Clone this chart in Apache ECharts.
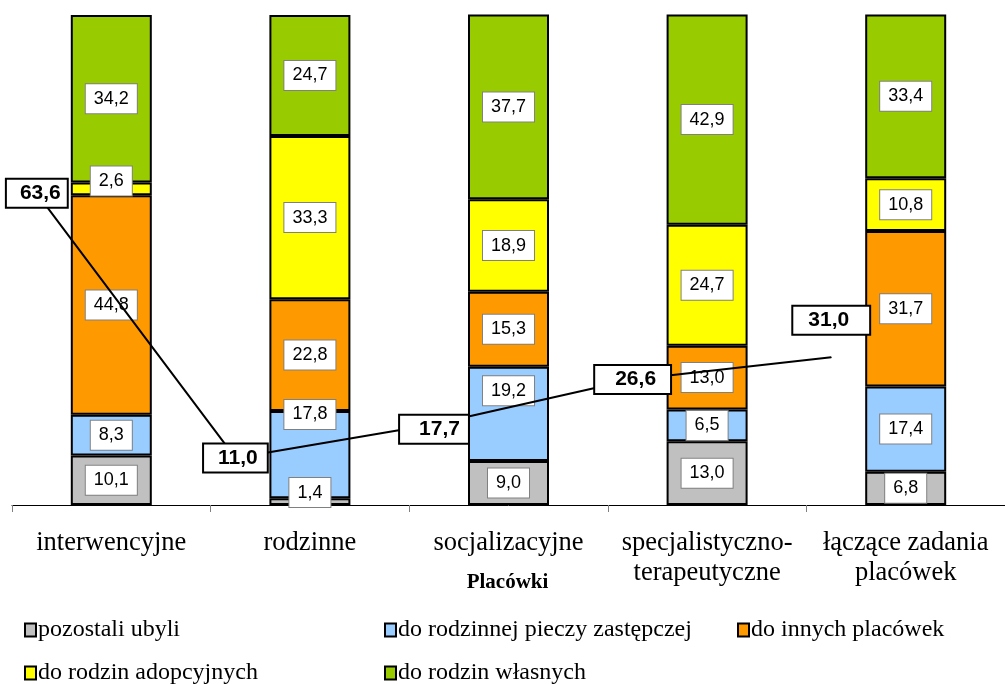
<!DOCTYPE html>
<html>
<head>
<meta charset="utf-8">
<script src="https://cdn.jsdelivr.net/npm/echarts@6/dist/echarts.min.js"></script>
<style>
html, body { margin: 0; padding: 0; background: #fff; }
#chart { width: 1005px; height: 684px; }
</style>
</head>
<body>
<div id="chart"></div>
<script>
var categories = ['interwencyjne', 'rodzinne', 'socjalizacyjne', 'specjalistyczno-\nterapeutyczne', 'łączące zadania\nplacówek'];
var seriesNames = ['pozostali ubyli', 'do rodzinnej pieczy zastępczej', 'do innych placówek', 'do rodzin adopcyjnych', 'do rodzin własnych'];

var pozostali = [10.1, 1.4, 9.0, 13.0, 6.8];
var rodzinnaPiecza = [8.3, 17.8, 19.2, 6.5, 17.4];
var innePlacowki = [44.8, 22.8, 15.3, 13.0, 31.7];
var adopcyjne = [2.6, 33.3, 18.9, 24.7, 10.8];
var wlasne = [34.2, 24.7, 37.7, 42.9, 33.4];

var lineValues = [63.6, 11.0, 17.7, 26.6, 31.0];

var colors = ['#C0C0C0', '#99CCFF', '#FF9900', '#FFFF00', '#99CC00'];
var barData = [pozostali, rodzinnaPiecza, innePlacowki, adopcyjne, wlasne];

// labels moved by hand in the original
var labelShift = { '1-1': [0, -9], '1-2': [0, -40], '0-4': [0, -8], '2-2': [0, -23] };
var linePad = [[3, 6, 3, 13], [3, 9, 3, 14], [3, 8, 3, 19], [3, 14, 3, 20], [3, 20, 3, 15]];
var lineShift = [[0, 0], [0, 0], [0, 5], [0, 0], [0, -37]];

// legend placement: [left, top]
var legendPos = [[24, 618], [384, 618], [737, 618], [24, 661], [384, 661]];

function fmt(v) {
	return v.toFixed(1).replace('.', ',');
}

var series = [];
for (var s = 0; s < barData.length; s++) {
	var data = [];
	for (var c = 0; c < categories.length; c++) {
		var item = { value: barData[s][c] };
		var key = c + '-' + (s + 1);
		if (labelShift[key]) {
			item.label = { offset: labelShift[key] };
		}
		data.push(item);
	}
	series.push({
		name: seriesNames[s],
		type: 'bar',
		stack: 'total',
		barWidth: 81,
		data: data,
		itemStyle: { color: colors[s], borderColor: '#000', borderWidth: 2 },
		label: {
			show: true,
			position: 'inside',
			formatter: function(p) { return fmt(p.value); },
			fontFamily: 'Liberation Sans',
			fontSize: 18,
			lineHeight: 18,
			color: '#000',
			backgroundColor: '#fff',
			borderColor: '#808080',
			borderWidth: 1,
			padding: [6, 8, 5, 8]
		}
	});
}

var lineData = [];
for (var i = 0; i < lineValues.length; i++) {
	lineData.push({
		value: [i, lineValues[i]],
		label: { padding: linePad[i], offset: lineShift[i] }
	});
}

series.push({
	name: 'ogółem',
	type: 'line',
	xAxisIndex: 1,
	yAxisIndex: 1,
	z: 5,
	symbol: 'circle',
	symbolSize: 1,
	data: lineData,
	lineStyle: { color: '#000', width: 2 },
	itemStyle: { color: '#000' },
	label: {
		show: true,
		position: 'inside',
		formatter: function(p) { return fmt(p.value[1]); },
		fontFamily: 'Liberation Sans',
		fontWeight: 'bold',
		fontSize: 21,
		lineHeight: 21,
		color: '#000',
		backgroundColor: '#fff',
		borderColor: '#000',
		borderWidth: 2
	}
});

var legends = [];
for (var k = 0; k < seriesNames.length; k++) {
	legends.push({
		left: legendPos[k][0],
		top: legendPos[k][1],
		padding: 0,
		icon: 'rect',
		itemWidth: 11,
		itemHeight: 13,
		itemStyle: { borderColor: '#000', borderWidth: 2 },
		textStyle: { fontFamily: 'Liberation Serif', fontSize: 24, color: '#000', padding: [0, 0, 0, -3] },
		data: [seriesNames[k]]
	});
}

var chart = echarts.init(document.getElementById('chart'));
chart.setOption({
	animation: false,
	backgroundColor: '#fff',
	grid: { left: 12, top: 15, width: 1003, bottom: 179 },
	legend: legends,
	xAxis: [{
		type: 'category',
		data: categories,
		name: 'Placówki',
		nameLocation: 'middle',
		nameGap: 67,
		nameMoveOverlap: false,
		nameTextStyle: { fontFamily: 'Liberation Serif', fontWeight: 'bold', fontSize: 21, color: '#000', padding: [0, 2, 0, 0] },
		axisLine: { lineStyle: { color: '#000', width: 1 } },
		axisTick: { show: true, length: 7, lineStyle: { color: '#808080' } },
		axisLabel: { fontFamily: 'Liberation Serif', fontSize: 26.5, lineHeight: 30, color: '#000', margin: 23, interval: 0 }
	}, {
		type: 'value',
		min: -0.125,
		max: 4.875,
		show: false
	}],
	yAxis: [{
		type: 'value',
		min: 0,
		max: 100,
		show: false,
		splitLine: { show: false }
	}, {
		type: 'value',
		min: 1.65,
		max: 99.05,
		show: false,
		splitLine: { show: false }
	}],
	series: series
});
</script>
</body>
</html>
